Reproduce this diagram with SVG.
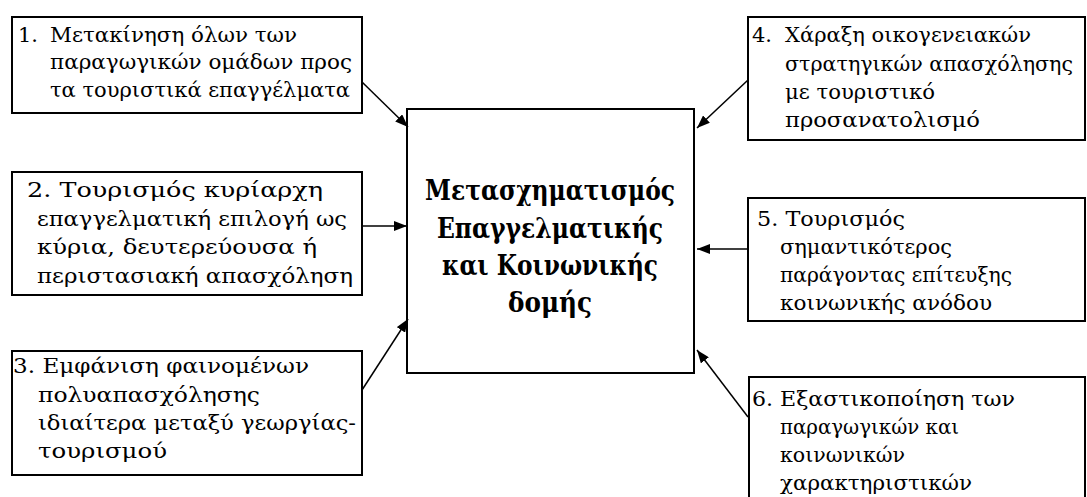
<svg xmlns="http://www.w3.org/2000/svg" width="1087" height="497" viewBox="0 0 1087 497">
<style>
.box{fill:#fff;stroke:#000;stroke-width:2}
.t{font-family:"DejaVu Serif","Liberation Serif",serif;font-size:21px;fill:#000}
.c{font-family:"DejaVu Serif","Liberation Serif",serif;font-size:27px;font-weight:bold;fill:#000;text-anchor:middle}
.ln{stroke:#000;stroke-width:1.5;fill:none;marker-end:url(#ah)}
</style>
<defs>
<marker id="ah" viewBox="0 0 13 10" refX="13" refY="5" markerWidth="13" markerHeight="10" markerUnits="userSpaceOnUse" orient="auto">
<path d="M0,0 L13,5 L0,10 Z" fill="#000"/>
</marker>
</defs>
<rect width="1087" height="497" fill="#fff"/>
<g id="center">
<rect class="box" x="407" y="109" width="287" height="264"/>
<text class="c" x="550" y="200" textLength="250" lengthAdjust="spacingAndGlyphs">Μετασχηματισμός</text>
<text class="c" x="550" y="238" textLength="226" lengthAdjust="spacingAndGlyphs">Επαγγελματικής</text>
<text class="c" x="550" y="275" textLength="216" lengthAdjust="spacingAndGlyphs">και Κοινωνικής</text>
<text class="c" x="550" y="312" textLength="84" lengthAdjust="spacingAndGlyphs">δομής</text>
</g>
<g id="n1">
<rect class="box" x="12" y="17" width="350" height="96"/>
<text class="t" x="18" y="42">1.</text>
<text class="t" x="50" y="42" textLength="247" lengthAdjust="spacingAndGlyphs">Μετακίνηση όλων των</text>
<text class="t" x="50" y="69" textLength="302" lengthAdjust="spacingAndGlyphs">παραγωγικών ομάδων προς</text>
<text class="t" x="50" y="97" textLength="300" lengthAdjust="spacingAndGlyphs">τα τουριστικά επαγγέλματα</text>
</g>
<g id="n2">
<rect class="box" x="12" y="172" width="350" height="123"/>
<text class="t" x="27" y="197" textLength="296" lengthAdjust="spacingAndGlyphs">2. Τουρισμός κυρίαρχη</text>
<text class="t" x="37" y="226" textLength="310" lengthAdjust="spacingAndGlyphs">επαγγελματική επιλογή ως</text>
<text class="t" x="37" y="254" textLength="280" lengthAdjust="spacingAndGlyphs">κύρια, δευτερεύουσα ή</text>
<text class="t" x="37" y="283" textLength="316" lengthAdjust="spacingAndGlyphs">περιστασιακή απασχόληση</text>
</g>
<g id="n3">
<rect class="box" x="12" y="351" width="350" height="124"/>
<text class="t" x="13" y="373" textLength="296" lengthAdjust="spacingAndGlyphs">3. Εμφάνιση φαινομένων</text>
<text class="t" x="38" y="402" textLength="222" lengthAdjust="spacingAndGlyphs">πολυαπασχόλησης</text>
<text class="t" x="38" y="430" textLength="318" lengthAdjust="spacingAndGlyphs">ιδιαίτερα μεταξύ γεωργίας-</text>
<text class="t" x="38" y="458" textLength="129" lengthAdjust="spacingAndGlyphs">τουρισμού</text>
</g>
<g id="n4">
<rect class="box" x="748" y="17" width="337" height="123"/>
<text class="t" x="752" y="42">4.</text>
<text class="t" x="785" y="42" textLength="246" lengthAdjust="spacingAndGlyphs">Χάραξη οικογενειακών</text>
<text class="t" x="785" y="71" textLength="288" lengthAdjust="spacingAndGlyphs">στρατηγικών απασχόλησης</text>
<text class="t" x="785" y="99" textLength="150" lengthAdjust="spacingAndGlyphs">με τουριστικό</text>
<text class="t" x="785" y="127" textLength="195" lengthAdjust="spacingAndGlyphs">προσανατολισμό</text>
</g>
<g id="n5">
<rect class="box" x="748" y="198" width="337" height="123"/>
<text class="t" x="757" y="226" textLength="148" lengthAdjust="spacingAndGlyphs">5. Τουρισμός</text>
<text class="t" x="780" y="254" textLength="172" lengthAdjust="spacingAndGlyphs">σημαντικότερος</text>
<text class="t" x="780" y="282" textLength="232" lengthAdjust="spacingAndGlyphs">παράγοντας επίτευξης</text>
<text class="t" x="780" y="310" textLength="212" lengthAdjust="spacingAndGlyphs">κοινωνικής ανόδου</text>
</g>
<g id="n6">
<rect class="box" x="749" y="377" width="336" height="140"/>
<text class="t" x="752" y="406" textLength="263" lengthAdjust="spacingAndGlyphs">6. Εξαστικοποίηση των</text>
<text class="t" x="780" y="434" textLength="179" lengthAdjust="spacingAndGlyphs">παραγωγικών και</text>
<text class="t" x="780" y="462" textLength="125" lengthAdjust="spacingAndGlyphs">κοινωνικών</text>
<text class="t" x="780" y="490" textLength="192" lengthAdjust="spacingAndGlyphs">χαρακτηριστικών</text>
</g>
<g id="connectors">
<line class="ln" x1="362" y1="82" x2="408" y2="127"/>
<line class="ln" x1="362" y1="226" x2="407" y2="226"/>
<line class="ln" x1="362" y1="390" x2="408" y2="319"/>
<line class="ln" x1="748" y1="80" x2="697" y2="128"/>
<line class="ln" x1="748" y1="249" x2="697" y2="249"/>
<line class="ln" x1="748" y1="417" x2="697" y2="350"/>
</g>
</svg>
